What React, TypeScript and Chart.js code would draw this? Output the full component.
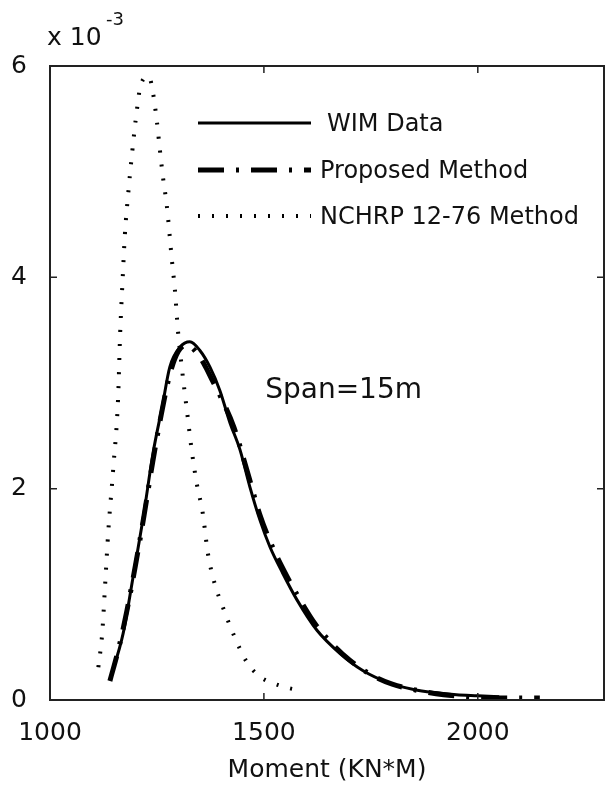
import React, { useEffect, useRef } from "react";
import { Chart, registerables } from "chart.js";

Chart.register(...registerables);

// Moment (kN*m) and probability density (in units of 1e-3)
const wimMoment = [1140, 1171, 1194, 1218, 1241, 1262, 1280, 1304, 1327, 1350, 1374, 1397, 1421, 1444, 1467, 1491, 1514, 1544, 1577, 1624, 1678, 1731, 1794, 1850, 1900, 1950, 2000, 2050];
const wimDensity = [0.19, 0.63, 1.16, 1.73, 2.34, 2.77, 3.15, 3.34, 3.39, 3.31, 3.15, 2.93, 2.62, 2.37, 2.02, 1.70, 1.45, 1.20, 0.95, 0.66, 0.44, 0.28, 0.16, 0.10, 0.07, 0.05, 0.04, 0.03];

const proposedMoment = [1140, 1160, 1180, 1200, 1220, 1240, 1260, 1280, 1300, 1320, 1340, 1360, 1380, 1400, 1430, 1460, 1490, 1520, 1550, 1580, 1620, 1660, 1700, 1750, 1800, 1860, 1920, 1980, 2040, 2100, 2145];
const proposedDensity = [0.18, 0.48, 0.85, 1.28, 1.75, 2.25, 2.70, 3.08, 3.30, 3.36, 3.30, 3.18, 3.02, 2.86, 2.58, 2.18, 1.76, 1.45, 1.20, 0.98, 0.72, 0.53, 0.38, 0.24, 0.15, 0.09, 0.05, 0.03, 0.02, 0.02, 0.02];

const nchrpMoment = [1113, 1122, 1129, 1136, 1148, 1159, 1164, 1170, 1175, 1183, 1192, 1203, 1212, 1231, 1241, 1250, 1257, 1264, 1273, 1285, 1292, 1299, 1308, 1320, 1332, 1343, 1357, 1369, 1385, 1404, 1428, 1460, 1491, 1521, 1561, 1589];
const nchrpDensity = [0.31, 0.63, 1.10, 1.58, 2.20, 2.84, 3.47, 4.00, 4.40, 4.80, 5.18, 5.58, 5.82, 5.90, 5.74, 5.47, 5.20, 4.95, 4.68, 4.16, 3.88, 3.50, 3.15, 2.74, 2.34, 2.05, 1.77, 1.39, 1.10, 0.88, 0.63, 0.36, 0.22, 0.16, 0.11, 0.09];

const seriesNames = ["WIM Data", "Proposed Method", "NCHRP 12-76 Method"];
const xTicks = [1000, 1500, 2000];
const yTicks = [0, 2, 4, 6];
const xTitle = "Moment (KN*M)";
const annotationText = "Span=15m";

const FONT = "'DejaVu Sans', sans-serif";

const toPoints = (xs: number[], ys: number[]) => xs.map((x, i) => ({ x, y: ys[i] }));

export default function App() {
  const ref = useRef<HTMLCanvasElement | null>(null);

  useEffect(() => {
    const canvas = ref.current;
    if (!canvas) return;

    const decorPlugin = {
      id: "decor",
      afterDraw(chart: any) {
        const { ctx, chartArea } = chart;
        const xs = chart.scales.x;
        const ys = chart.scales.y;
        ctx.save();
        // box
        ctx.strokeStyle = "#222";
        ctx.lineWidth = 2;
        ctx.setLineDash([]);
        ctx.strokeRect(chartArea.left, chartArea.top, chartArea.right - chartArea.left, chartArea.bottom - chartArea.top);
        // inward ticks
        ctx.lineWidth = 1.5;
        const tl = 7;
        ctx.beginPath();
        xTicks.forEach((v) => {
          const px = xs.getPixelForValue(v);
          ctx.moveTo(px, chartArea.bottom);
          ctx.lineTo(px, chartArea.bottom - tl);
          ctx.moveTo(px, chartArea.top);
          ctx.lineTo(px, chartArea.top + tl);
        });
        yTicks.forEach((v) => {
          const py = ys.getPixelForValue(v);
          ctx.moveTo(chartArea.left, py);
          ctx.lineTo(chartArea.left + tl, py);
          ctx.moveTo(chartArea.right, py);
          ctx.lineTo(chartArea.right - tl, py);
        });
        ctx.stroke();

        // exponent label
        ctx.fillStyle = "#111";
        ctx.textBaseline = "middle";
        ctx.textAlign = "left";
        ctx.font = `25px ${FONT}`;
        ctx.fillText("x 10", chartArea.left - 3, chartArea.top - 28);
        ctx.font = `18px ${FONT}`;
        ctx.fillText("-3", chartArea.left + 56, chartArea.top - 46);

        // annotation
        ctx.font = `28px ${FONT}`;
        ctx.fillText(annotationText, xs.getPixelForValue(1503), ys.getPixelForValue(2.93));

        // legend
        const lx0 = 198;
        const lx1 = 311;
        const rows = [123, 170, 216];
        const textX = [327, 320, 320];
        chart.data.datasets.forEach((ds: any, i: number) => {
          ctx.strokeStyle = ds.borderColor;
          ctx.lineWidth = ds.borderWidth;
          ctx.setLineDash(ds.borderDash || []);
          ctx.beginPath();
          ctx.moveTo(lx0, rows[i]);
          ctx.lineTo(lx1, rows[i]);
          ctx.stroke();
          ctx.setLineDash([]);
          ctx.fillStyle = "#111";
          ctx.font = `24px ${FONT}`;
          ctx.textBaseline = "middle";
          ctx.fillText(ds.label, textX[i], rows[i] + 2);
        });
        ctx.restore();
      },
    };

    const chart = new Chart(canvas, {
      type: "line",
      data: {
        datasets: [
          {
            label: seriesNames[0],
            data: toPoints(wimMoment, wimDensity),
            borderColor: "#000",
            borderWidth: 3,
            pointRadius: 0,
            fill: false,
            cubicInterpolationMode: "monotone",
          },
          {
            label: seriesNames[1],
            data: toPoints(proposedMoment, proposedDensity),
            borderColor: "#000",
            borderWidth: 5,
            borderDash: [26, 12, 3, 12],
            pointRadius: 0,
            fill: false,
            cubicInterpolationMode: "monotone",
          },
          {
            label: seriesNames[2],
            data: toPoints(nchrpMoment, nchrpDensity),
            borderColor: "#000",
            borderWidth: 4,
            borderDash: [2, 12],
            pointRadius: 0,
            fill: false,
            cubicInterpolationMode: "monotone",
          },
        ],
      },
      options: {
        responsive: false,
        animation: false,
        devicePixelRatio: 1,
        layout: { padding: { top: 66, right: 2, left: 0, bottom: 0 } },
        plugins: {
          legend: { display: false },
          tooltip: { enabled: false },
        },
        scales: {
          x: {
            type: "linear",
            min: 1000,
            max: 2295,
            grid: { display: false },
            border: { display: false },
            afterBuildTicks: (s: any) => {
              s.ticks = xTicks.map((v) => ({ value: v }));
            },
            afterFit: (s: any) => {
              s.height = 88;
            },
            ticks: {
              color: "#111",
              font: { family: FONT, size: 25 },
              padding: 10,
              maxRotation: 0,
              callback: (v: any) => String(v),
            },
            title: {
              display: true,
              text: xTitle,
              color: "#111",
              font: { family: FONT, size: 25 },
              padding: { top: 0, bottom: 3 },
            },
          },
          y: {
            type: "linear",
            min: 0,
            max: 6,
            grid: { display: false },
            border: { display: false },
            afterBuildTicks: (s: any) => {
              s.ticks = yTicks.map((v) => ({ value: v }));
            },
            afterFit: (s: any) => {
              s.width = 50;
            },
            ticks: {
              color: "#111",
              font: { family: FONT, size: 25 },
              padding: 15,
              callback: (v: any) => String(v),
            },
          },
        },
      },
      plugins: [decorPlugin],
    } as any);

    return () => chart.destroy();
  }, []);

  return (
    <div style={{ position: "fixed", left: 0, top: 0, width: 606, height: 788, background: "#fff" }}>
      <canvas ref={ref} width={606} height={788} style={{ display: "block", width: 606, height: 788 }} />
    </div>
  );
}
